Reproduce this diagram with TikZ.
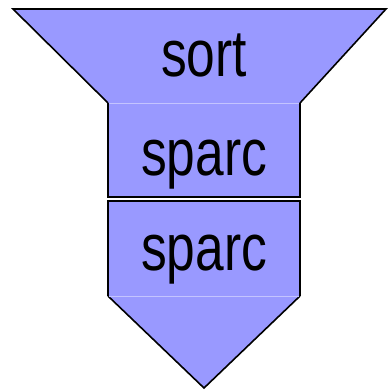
\documentclass[tikz,border=0pt]{standalone}
\usepackage{fontspec}
\setmainfont[FakeStretch=0.78]{Liberation Sans}
\definecolor{stagefill}{HTML}{9999FF}
\definecolor{stageseam}{HTML}{C4C4FF}

\begin{document}
\begin{tikzpicture}[
    x=1pt, y=-1pt,
    stagepart/.style={
        fill=stagefill,
        draw=none
    },
    stageedge/.style={
        draw=black,
        line width=1.6pt,
        line join=miter
    },
    stageseamline/.style={
        draw=stageseam,
        line width=0.8pt
    },
    stagelabel/.style={
        anchor=base,
        inner sep=0pt,
        font=\fontsize{66}{70}\selectfont
    }
]
    \useasboundingbox (0,0) rectangle (388,390);

    % funnel top
    \fill[stagepart] (13,9) -- (386,9) -- (300,103) -- (108,103) -- cycle;
    \draw[stageedge] (108,103) -- (13,9) -- (386,9) -- (300,103);

    % first box
    \fill[stagepart] (108,103) rectangle (300,197);
    \draw[stageedge] (108,103) -- (108,197) -- (300,197) -- (300,103);

    % second box
    \fill[stagepart] (108,201) rectangle (300,296);
    \draw[stageedge] (108,296) -- (108,201) -- (300,201) -- (300,296);

    % funnel tip
    \fill[stagepart] (108,296) -- (300,296) -- (204,388) -- cycle;
    \draw[stageedge] (108,296) -- (204,388) -- (300,296);

    \draw[stageseamline] (109,103) -- (299,103);
    \draw[stageseamline] (109,296) -- (299,296);

    \node[stagelabel] (sortLabel) at (204,77) {sort};
    \node[stagelabel] (sparcTop) at (204,175) {sparc};
    \node[stagelabel] (sparcBottom) at (204,270) {sparc};
\end{tikzpicture}
\end{document}
